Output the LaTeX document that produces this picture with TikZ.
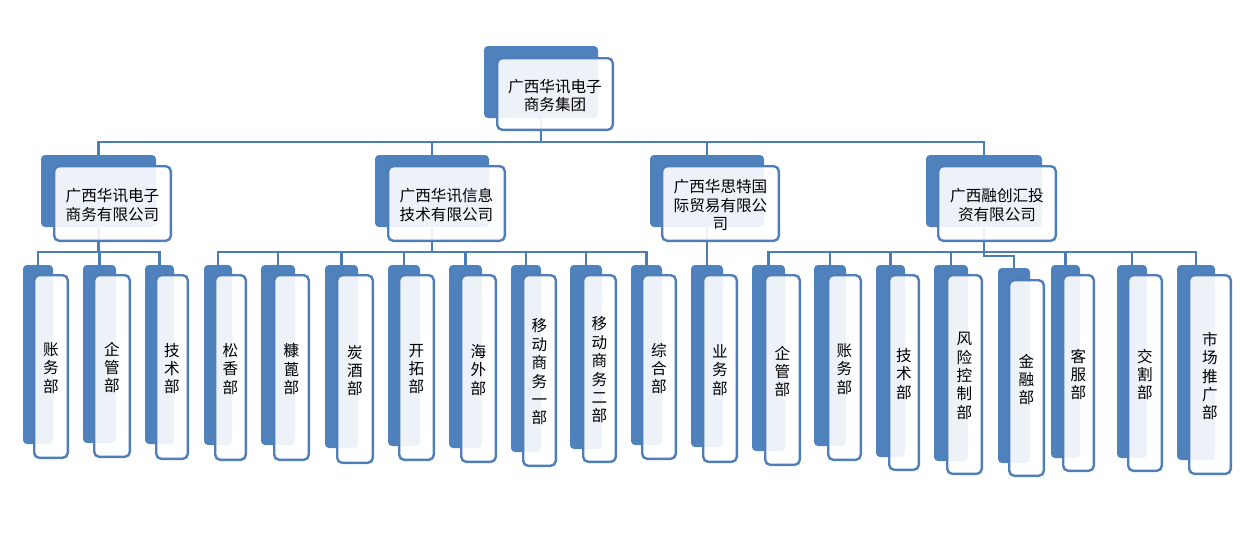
\documentclass[tikz,border=0pt]{standalone}
\usepackage{fontspec}
\newfontfamily\cjk{Noto Sans CJK SC}
\usetikzlibrary{fit,backgrounds}
\definecolor{bk}{RGB}{79,129,189}
\definecolor{fb}{RGB}{79,126,184}
\definecolor{ln}{RGB}{74,124,184}
\newcommand\orgunit[6]{%
  \node[backbox, fit={(#2) (#3)}] (#1B) {};
  \node[frontbox, fit={(#4) (#5)}] (#1F) {};
  \node[unittext] (#1X) at ([yshift=-1.5pt]#1F.center) {#6};
}
\begin{document}
\begin{tikzpicture}[x=1pt,y=-1pt,
  backbox/.style={fill=bk, rounded corners=4pt, inner sep=0pt, outer sep=0pt, draw=none},
  frontbox/.style={draw=fb, line width=2.4pt, fill=white, fill opacity=0.9,
    rounded corners=5pt, inner sep=-1.2pt, outer sep=0pt},
  unittext/.style={inner sep=0pt, align=center, text=black,
    font=\cjk\fontsize{15.6}{18.4}\selectfont},
  conn/.style={draw=ln, line width=2.7pt}]
\useasboundingbox (0,0) rectangle (1240,536);
% top
\orgunit{T}{484,46}{598,118}{496,57}{614,131}{广西华讯电子\\商务集团}
% level 2
\orgunit{Ca}{41,155}{156,227}{53,165}{172,242}{广西华讯电子\\商务有限公司}
\orgunit{Cb}{375,155}{489,227}{387,165}{506,242}{广西华讯信息\\技术有限公司}
\orgunit{Cc}{650,155}{764,227}{661,165}{780,242}{广西华思特国\\际贸易有限公\\司}
\orgunit{Cd}{926,155}{1042,227}{937,165}{1057,242}{广西融创汇投\\资有限公司}
% leaves
\orgunit{La}{23,265}{53,444}{33,274}{69,459}{账\\务\\部}
\orgunit{Lb}{83,265}{116,443}{93,274}{131,458}{企\\管\\部}
\orgunit{Lc}{145,265}{174,444}{155,274}{189,460}{技\\术\\部}
\orgunit{Ld}{204,265}{232,445}{214,274}{247,461}{松\\香\\部}
\orgunit{Le}{261,265}{295,445}{273,274}{310,461}{糠\\蓖\\部}
\orgunit{Lf}{325,265}{358,448}{336,274}{374,464}{炭\\酒\\部}
\orgunit{Lg}{388,265}{420,446}{398,274}{435,461}{开\\拓\\部}
\orgunit{Lh}{449,265}{482,448}{460,274}{497,463}{海\\外\\部}
\orgunit{Li}{511,265}{541,452}{522,274}{557,467}{移\\动\\商\\务\\一\\部}
\orgunit{Lj}{570,265}{602,449}{582,274}{617,463}{移\\动\\商\\务\\二\\部}
\orgunit{Lk}{631,265}{662,445}{641,274}{677,460}{综\\合\\部}
\orgunit{Ll}{691,265}{723,447}{702,274}{738,463}{业\\务\\部}
\orgunit{Lm}{752,265}{785,451}{764,274}{801,466}{企\\管\\部}
\orgunit{Ln}{814,265}{846,446}{827,274}{862,461}{账\\务\\部}
\orgunit{Lo}{876,265}{905,457}{888,274}{920,471}{技\\术\\部}
\orgunit{Lp}{934,265}{968,461}{946,274}{983,475}{风\\险\\控\\制\\部}
\orgunit{Lq}{998,268}{1030,463}{1008,279}{1045,477}{金\\融\\部}
\orgunit{Lr}{1051,265}{1080,458}{1062,274}{1095,472}{客\\服\\部}
\orgunit{Ls}{1117,265}{1147,458}{1127,274}{1163,472}{交\\割\\部}
\orgunit{Lt}{1177,265}{1215,460}{1188,274}{1232,475}{市\\场\\推\\广\\部}
% connectors
\begin{pgfonlayer}{background}
\coordinate (bus0) at (0,142);
\coordinate (bus1) at (0,252);
\coordinate (bus4) at (0,256);
\foreach \c in {CaB,CbB,CcB,CdB}
  \draw[conn] (TB.center) -- (TB.center |- bus0) -| (\c.north);
\foreach \l in {LaB,LbB,LcB}
  \draw[conn] (CaB.center) -- (CaB.center |- bus1) -| (\l.north);
\foreach \l in {LdB,LeB,LfB,LgB,LhB,LiB,LjB,LkB}
  \draw[conn] (CbB.center) -- (CbB.center |- bus1) -| (\l.north);
\draw[conn] (CcB.center) -- (CcB.center |- LlB.north);
\foreach \l in {LmB,LnB,LoB,LpB,LrB,LsB,LtB}
  \draw[conn] (CdB.center) -- (CdB.center |- bus1) -| (\l.north);
\draw[conn] (CdB.center) -- (CdB.center |- bus4) -| (LqB.north);
\end{pgfonlayer}
\end{tikzpicture}
\end{document}
